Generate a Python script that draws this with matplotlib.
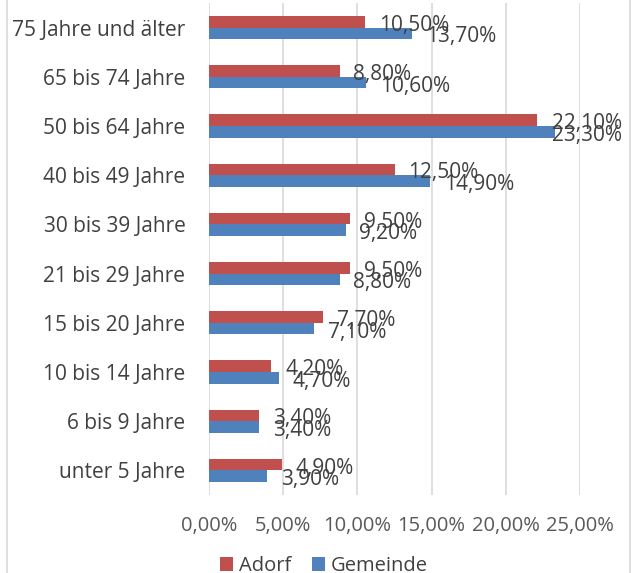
#importing modules
import numpy as np
import matplotlib.pyplot as plt
from matplotlib.patches import Rectangle

plt.rcParams['font.family'] = ['Open Sans', 'DejaVu Sans']

# data, top to bottom as in the chart
categories = ['75 Jahre und älter', '65 bis 74 Jahre', '50 bis 64 Jahre', '40 bis 49 Jahre',
              '30 bis 39 Jahre', '21 bis 29 Jahre', '15 bis 20 Jahre', '10 bis 14 Jahre',
              '6 bis 9 Jahre', 'unter 5 Jahre']
adorf = [10.5, 8.8, 22.1, 12.5, 9.5, 9.5, 7.7, 4.2, 3.4, 4.9]
gemeinde = [13.7, 10.6, 23.3, 14.9, 9.2, 8.8, 7.1, 4.7, 3.4, 3.9]
xticks = [0, 5, 10, 15, 20, 25]

red = '#C0504D'
blue = '#4F81BD'
txt = '#404040'

fig = plt.figure(figsize=(6.34, 5.73), dpi=100)
ax = fig.add_axes([209/634, 1-495/573, (580-209)/634, 492/573])

y = np.arange(len(categories))
h = 0.234
ax.barh(y - h/2, adorf, height=h, color=red, label='Adorf', zorder=3)
ax.barh(y + h/2, gemeinde, height=h, color=blue, label='Gemeinde', zorder=3)

def fmt(v):
    return ('%.2f%%' % v).replace('.', ',')

# data labels; labels that would run past the chart edge are pushed back inside (like Excel does)
def label(v, yy):
    if v > 21:
        ax.annotate(fmt(v), (622/634, yy), xycoords=('figure fraction', 'data'), xytext=(0, -2.5),
                    textcoords='offset points', va='center', ha='right', fontsize=15, color=txt, zorder=4)
    else:
        ax.annotate(fmt(v), (v, yy), xytext=(10, -2.5), textcoords='offset points',
                    va='center', ha='left', fontsize=15, color=txt, zorder=4)

for i in range(len(categories)):
    label(adorf[i], y[i] - h/2)
    label(gemeinde[i], y[i] + h/2)

ax.set_xlim(0, 25)
ax.set_ylim(len(categories) - 0.5, -0.5)
ax.set_yticks(y)
ax.set_yticklabels(categories, fontsize=15, color=txt)
ax.set_xticks(xticks)
ax.set_xticklabels([fmt(t) for t in xticks], fontsize=14.5, color='#595959')
ax.tick_params(axis='both', length=0)
ax.tick_params(axis='y', pad=17)
ax.tick_params(axis='x', pad=15)
ax.grid(axis='x', color='#D9D9D9', linewidth=1.2, zorder=0)
for s in ax.spines.values():
    s.set_visible(False)

# legend at the bottom, partly cut off
fig.legend(loc='center', bbox_to_anchor=(324/634, 1-566/573), ncol=2, frameon=False,
           fontsize=14.5, labelcolor=txt, handlelength=0.65, handleheight=0.65,
           handletextpad=0.3, columnspacing=1.0)

# chart area border
fig.patches.append(Rectangle((7/634, -0.05), (630-7)/634, 1.1, transform=fig.transFigure,
                             fill=False, edgecolor='#D9D9D9', linewidth=1.2))

plt.savefig('out.png', dpi=100)
